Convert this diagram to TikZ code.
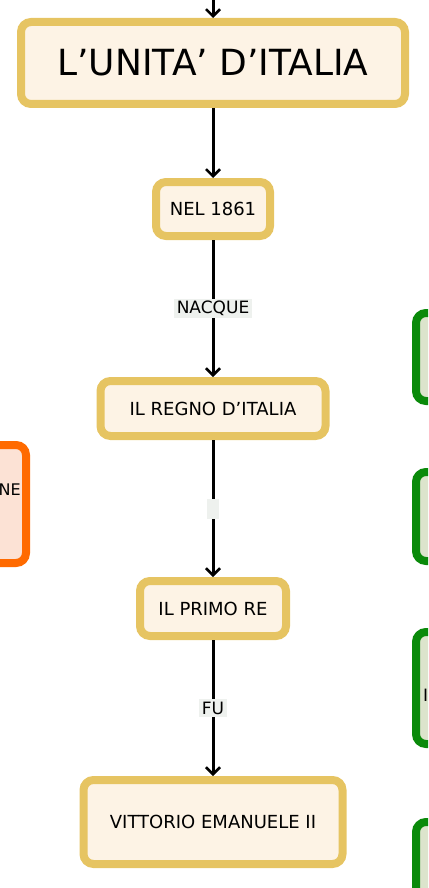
\documentclass[tikz,border=0pt]{standalone}
\usepackage{fontspec}
\setmainfont{DejaVu Sans}
\usetikzlibrary{arrows.meta}
\definecolor{goldline}{HTML}{E6C462}
\definecolor{goldfill}{HTML}{FDF3E5}
\definecolor{greenline}{HTML}{0A8A0A}
\definecolor{greenfill}{HTML}{DCE4CC}
\definecolor{orangeline}{HTML}{FF6A00}
\definecolor{orangefill}{HTML}{FCE2D5}
\definecolor{labelgrey}{HTML}{EEF1EE}
\tikzset{
  topic/.style={draw=goldline, fill=goldfill, line width=8pt, rounded corners=10pt,
    font=\fontsize{18}{20}\selectfont, inner sep=0pt},
  sidebox/.style={line width=8pt, rounded corners=10pt, inner sep=0pt},
  conn/.style={line width=3pt, -{Straight Barb[length=7pt,width=14pt,line width=2.5pt]}},
  lbl/.style={fill=labelgrey, inner sep=2.5pt, font=\fontsize{17}{19}\selectfont}
}
\begin{document}
\begin{tikzpicture}[x=1pt, y=-1pt]
  % cut-out of a larger map
  \useasboundingbox (0,0) rectangle (428,888);
  \clip (0,0) rectangle (428,888);

  % neighbouring boxes, only partly in view
  \node (side) at (-37,504) [sidebox, draw=orangeline, fill=orangefill, minimum width=126, minimum height=118] {};
  \node (sidetxt) at (21,490) [anchor=east, inner sep=0pt, font=\fontsize{16}{18}\selectfont] {NE};
  \foreach \t/\b [count=\i] in {309/405, 468/565, 628/748, 818/960} {
    \node (g\i) at (476,{(\t+\b)/2}) [sidebox, draw=greenline, fill=greenfill,
      minimum width=120, minimum height={\b-\t-8}] {};
  }
  \node (g3txt) at (423,695) [anchor=west, inner sep=0pt, font=\fontsize{17}{19}\selectfont] {I};

  % main chain
  \node (title) at (213,63) [topic, minimum width=384, minimum height=82, font=\fontsize{36}{40}\selectfont] {L'UNITA' D'ITALIA};
  \node (nel) at (213,209) [topic, minimum width=114, minimum height=54] {NEL 1861};
  \node (regno) at (213,408.5) [topic, minimum width=225, minimum height=55] {IL REGNO D'ITALIA};
  \node (primo) at (213,608.5) [topic, minimum width=146, minimum height=55] {IL PRIMO RE};
  \node (vitt) at (213,822) [topic, minimum width=259, minimum height=84] {VITTORIO EMANUELE II};

  \coordinate (top) at (213,-5);
  \draw[conn] (top) -- (title);
  \draw[conn] (title) -- (nel);
  \draw[conn] (nel) -- node[lbl] (l1) {NACQUE} (regno);
  \draw[conn] (regno) -- node[lbl, minimum width=12, minimum height=20] (l2) {} (primo);
  \draw[conn] (primo) -- node[lbl] (l3) {FU} (vitt);
\end{tikzpicture}
\end{document}
